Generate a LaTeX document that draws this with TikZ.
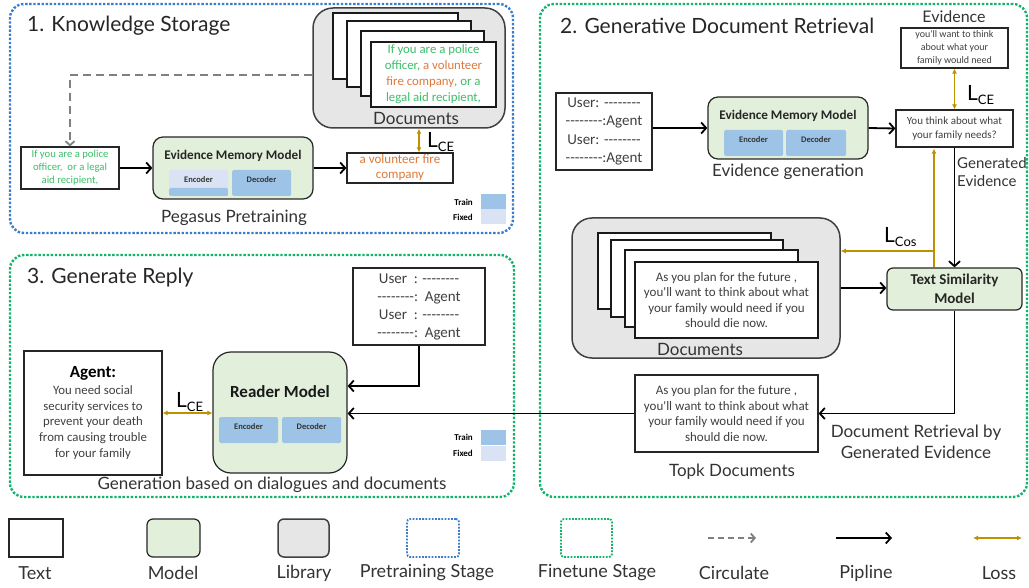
\documentclass[tikz,border=0pt]{standalone}
\usepackage{fontspec}
\setmainfont{Carlito}[Ligatures=TeXOff]
\newfontfamily\capfont{Lato}
\usetikzlibrary{arrows.meta}
\definecolor{modelgreen}{HTML}{E2EFDA}
\definecolor{libgray}{HTML}{E6E6E6}
\definecolor{trainblue}{HTML}{9DC3E6}
\definecolor{fixblue}{HTML}{DAE3F3}
\definecolor{preblue}{HTML}{3A7DC9}
\definecolor{finegreen}{HTML}{12B36B}
\definecolor{lossgold}{HTML}{BF9000}
\definecolor{keygreen}{HTML}{3DBE6A}
\definecolor{keyorange}{HTML}{DD7A3A}
\newcommand{\fs}[2]{\fontsize{#1}{#2}\selectfont}
\newcommand{\lossname}[1]{{\capfont\fs{21}{21}L\raisebox{-4pt}{\fs{13}{13}#1}}}
\tikzset{
  txtbox/.style={draw=black!85, line width=1.2pt, fill=white, align=center, inner sep=0pt, text=black!75},
  modelbox/.style={draw=black!85, line width=1.2pt, fill=modelgreen, rounded corners=10pt, inner sep=0pt},
  libbox/.style={draw=black!75, line width=1.5pt, fill=libgray, rounded corners=20pt, inner sep=0pt},
  page/.style={draw=black!90, line width=1.5pt, fill=white, inner sep=0pt, align=center, text=black!75},
  coder/.style={fill=trainblue, rounded corners=1.5pt, inner sep=0pt, minimum width=59, minimum height=26,
    text height=6pt, text depth=7pt, font=\bfseries\fs{8.5}{10}, text=black!80},
  pretrain/.style={draw=preblue, line width=2.4pt, dash pattern=on 2.4pt off 1.7pt, rounded corners=14pt, inner sep=0pt},
  finetune/.style={draw=finegreen, line width=2.4pt, dash pattern=on 2.4pt off 1.7pt, rounded corners=14pt, inner sep=0pt},
  caption/.style={font=\capfont\fs{17}{21}, text=black!80, align=center, inner sep=0pt},
  title/.style={font=\capfont\fs{21}{24}, text=black!85, anchor=west, inner sep=0pt},
  keyname/.style={font=\bfseries\fs{9}{10}, anchor=east, inner sep=0pt},
  keysq/.style={inner sep=0pt, minimum width=25, minimum height=15},
  pipe/.style={line width=1.8pt, -{Straight Barb[length=5pt,width=11pt,line width=1.8pt]}},
  loss/.style={draw=lossgold, line width=1.3pt, {Latex[length=5pt,width=5pt]}-{Latex[length=5pt,width=5pt]}},
  lossto/.style={draw=lossgold, line width=1.3pt, -{Latex[length=5pt,width=5pt]}},
  circ/.style={draw=black!50, line width=2.2pt, dash pattern=on 8pt off 5pt, -{Straight Barb[length=4pt,width=9pt,line width=1.8pt]}}
}
\begin{document}
\begin{tikzpicture}[x=1pt,y=-1pt]
\useasboundingbox (0,0) rectangle (1029,588);
\node[pretrain, minimum width=503, minimum height=229] (stage1) at (261.5,118.5) {};
\node[finetune, minimum width=487, minimum height=493] (stage2) at (783.5,250.5) {};
\node[finetune, minimum width=504, minimum height=242] (stage3) at (262,376) {};
\node[title] (t1) at (27,26) {1. Knowledge Storage};
\node[title] (t2) at (560,26) {2. Generative Document Retrieval};
\node[title] (t3) at (27,278) {3. Generate Reply};

\node[libbox, minimum width=192, minimum height=120] (lib1) at (409,68) {};
\node[page, minimum width=125, minimum height=66] (lib1a) at (395.5,46) {};
\node[page, minimum width=124, minimum height=66] (lib1b) at (409,54) {};
\node[page, minimum width=123, minimum height=65] (lib1c) at (422.5,63.5) {};
\node[page, minimum width=125, minimum height=65, font=\fs{12.8}{16}] (lib1d) at (433.5,74.5)
  {\color{keygreen}If you are a police\\\color{keygreen}officer, \color{keyorange}a volunteer\\\color{keyorange}fire company\color{keygreen}, or a\\\color{keygreen}legal aid recipient,};
\node[caption] (doc1) at (416,118) {Documents};
\node[txtbox, minimum width=98, minimum height=42, font=\fs{10.7}{13}, text=keygreen] (in1) at (70,168)
  {If you are a police\\officer,\ \ or a legal\\aid recipient,};
\node[modelbox, minimum width=160, minimum height=62] (emm1) at (233,168) {};
\node[font=\bfseries\fs{13.2}{14}, text=black!85] (emm1t) at (233,156) {Evidence Memory Model};
\node[coder, fill=fixblue, path picture={\fill[trainblue] (path picture bounding box.south west) rectangle ([yshift=8pt]path picture bounding box.south east);}] (enc1) at (198.5,183) {Encoder};
\node[coder] (dec1) at (261.5,183) {Decoder};
\node[txtbox, minimum width=106, minimum height=30, font=\fs{13}{15}, text=keyorange] (out1) at (400,168)
  {a volunteer fire\\company};
\node[caption] (cap1) at (234,218) {Pegasus Pretraining};
\node[anchor=west, inner sep=0pt] (lce1) at (427,142) {\lossname{CE}};
\node[keysq, fill=trainblue] (tr1) at (493.5,201.5) {};
\node[keysq, fill=fixblue] (fx1) at (493.5,217) {};
\node[keyname] (tr1t) at (473,202) {Train};
\node[keyname] (fx1t) at (473,217) {Fixed};
\draw[circ] ([yshift=-7pt]lib1.west) -| (in1.north);
\draw[pipe] (in1.east) -- (emm1.west);
\draw[pipe] (emm1.east) -- (out1.west);
\draw[loss] ([xshift=19pt]out1.north) -- ([xshift=19pt]out1.north |- lib1.south);

\node[txtbox, minimum width=96, minimum height=77, font=\fs{15}{18.5}] (dlg2) at (604,131.5)
  {User: --------\\--------:Agent\\User: --------\\--------:Agent};
\node[modelbox, minimum width=160, minimum height=62] (emm2) at (788,128) {};
\node[font=\bfseries\fs{13.2}{14}, text=black!85] (emm2t) at (788,116) {Evidence Memory Model};
\node[coder] (enc2) at (753.5,143) {Encoder};
\node[coder, minimum width=60] (dec2) at (816,143) {Decoder};
\node[caption] (cap2) at (788,172) {Evidence generation};
\node[txtbox, minimum width=117, minimum height=37, font=\fs{11}{14}] (gen) at (954.5,128.5)
  {You think about what\\your family needs?};
\node[txtbox, minimum width=107, minimum height=40, font=\fs{10}{13}] (ev) at (954.5,48)
  {you'll want to think\\about what your\\family would need};
\node[caption, font=\capfont\fs{16}{18}] (evt) at (954,17) {Evidence};
\node[anchor=west, inner sep=0pt] (lce2) at (967,95) {\lossname{CE}};
\node[caption, anchor=west, align=left, font=\capfont\fs{15}{18}] (gent) at (957,172) {Generated\\Evidence};
\node[libbox, minimum width=268, minimum height=140] (lib2) at (706,288) {};
\node[page, minimum width=173, minimum height=76] (lib2a) at (684.5,271) {};
\node[page, minimum width=172, minimum height=77] (lib2b) at (697,278.5) {};
\node[page, minimum width=173, minimum height=77] (lib2c) at (711.5,288.5) {};
\node[page, minimum width=183, minimum height=76, font=\fs{13}{15.5}] (lib2d) at (726.5,300)
  {As you plan for the future ,\\you'll want to think about what\\your family would need if you\\should die now.};
\node[caption] (doc2) at (700,349) {Documents};
\node[anchor=west, inner sep=0pt] (lcos) at (884,237) {\lossname{Cos}};
\node[modelbox, minimum width=135, minimum height=42, rounded corners=6pt, align=center, font=\bfseries\fs{15}{18.5}, text=black!85] (tsm) at (954.5,289)
  {Text Similarity\\Model};
\node[txtbox, minimum width=183, minimum height=77, font=\fs{13}{15.5}] (topk) at (726.5,413.5)
  {As you plan for the future ,\\you'll want to think about what\\your family would need if you\\should die now.};
\node[caption] (rett) at (916,441.5) {Document Retrieval by\\Generated Evidence};
\node[caption] (topkt) at (732,472) {Topk Documents};
\coordinate (cosbr) at (934,251);
\draw[pipe] (dlg2.east |- emm2.west) -- (emm2.west);
\draw[pipe] (emm2.east) -- (gen.west);
\draw[loss] (ev.south) -- (gen.north);
\draw[pipe] (gen.south) -- (tsm.north);
\draw[lossto] (cosbr |- tsm.north) -- ([yshift=-1pt]cosbr |- gen.south);
\draw[lossto] (cosbr) -- (cosbr -| lib2.east);
\draw[pipe] (lib2.east) -- (lib2.east -| tsm.west);
\draw[pipe] (tsm.south) |- (topk.east);

\node[txtbox, minimum width=132, minimum height=77, font=\fs{15}{18}] (dlg3) at (419,306.5)
  {User\ \ : --------\\--------:\ \ Agent\\User\ \ : --------\\--------:\ \ Agent};
\node[modelbox, minimum width=134, minimum height=121, rounded corners=18pt] (reader) at (280,412.5) {};
\node[font=\bfseries\fs{17}{18}, text=black!90] (readert) at (280,392) {Reader Model};
\node[coder] (enc3) at (248.5,430) {Encoder};
\node[coder] (dec3) at (311.5,430) {Decoder};
\node[txtbox, minimum width=138, minimum height=124, font=\fs{12.8}{15.7}] (agent) at (93,413)
  {{\bfseries\fs{17}{18}\color{black}Agent:}\\[1pt]You need social\\security services to\\prevent your death\\from causing trouble\\for your family};
\node[anchor=west, inner sep=0pt] (lce3) at (176,402) {\lossname{CE}};
\node[keysq, fill=trainblue] (tr3) at (493.5,437) {};
\node[keysq, fill=fixblue] (fx3) at (493.5,453) {};
\node[keyname] (tr3t) at (473,437) {Train};
\node[keyname] (fx3t) at (473,453) {Fixed};
\node[caption] (cap3) at (272,485) {Generation based on dialogues and documents};
\draw[pipe] (dlg3.south) |- ([yshift=26.5pt]reader.east);
\draw[pipe] (topk.west) -- (topk.west -| reader.east);
\draw[loss] (agent.east) -- (agent.east -| reader.west);

\node[txtbox, minimum width=54, minimum height=38] (lgtext) at (36,538) {};
\node[modelbox, minimum width=53, minimum height=38, rounded corners=6pt] (lgmodel) at (173.5,538) {};
\node[libbox, minimum width=51, minimum height=38, rounded corners=6pt] (lglib) at (303.5,538) {};
\node[pretrain, minimum width=52, minimum height=38, rounded corners=3pt, line width=1.8pt, dash pattern=on 1.8pt off 1.4pt] (lgpre) at (433,538) {};
\node[finetune, minimum width=51, minimum height=38, rounded corners=3pt, line width=1.8pt, dash pattern=on 1.8pt off 1.4pt] (lgfine) at (586.5,538) {};
\coordinate (lgcirc1) at (708,538);
\coordinate (lgcirc2) at (756,538);
\coordinate (lgpipe1) at (836,538);
\coordinate (lgpipe2) at (892,538);
\coordinate (lgloss1) at (973,538);
\coordinate (lgloss2) at (1022,538);
\draw[circ, line width=1.8pt, dash pattern=on 6pt off 4pt] (lgcirc1) -- (lgcirc2);
\draw[pipe] (lgpipe1) -- (lgpipe2);
\draw[loss] (lgloss1) -- (lgloss2);
\node[caption, font=\capfont\fs{18}{20}] (lgtextt) at (35,573) {Text};
\node[caption, font=\capfont\fs{18}{20}] (lgmodelt) at (173,573) {Model};
\node[caption, font=\capfont\fs{18}{20}] (lglibt) at (304,573) {Library};
\node[caption, font=\capfont\fs{18}{20}] (lgpret) at (427,573) {Pretraining Stage};
\node[caption, font=\capfont\fs{18}{20}] (lgfinet) at (597,573) {Finetune Stage};
\node[caption, font=\capfont\fs{18}{20}] (lgcirct) at (734,573) {Circulate};
\node[caption, font=\capfont\fs{18}{20}] (lgpipet) at (866,573) {Pipline};
\node[caption, font=\capfont\fs{18}{20}] (lglosst) at (999,573) {Loss};
\end{tikzpicture}
\end{document}
